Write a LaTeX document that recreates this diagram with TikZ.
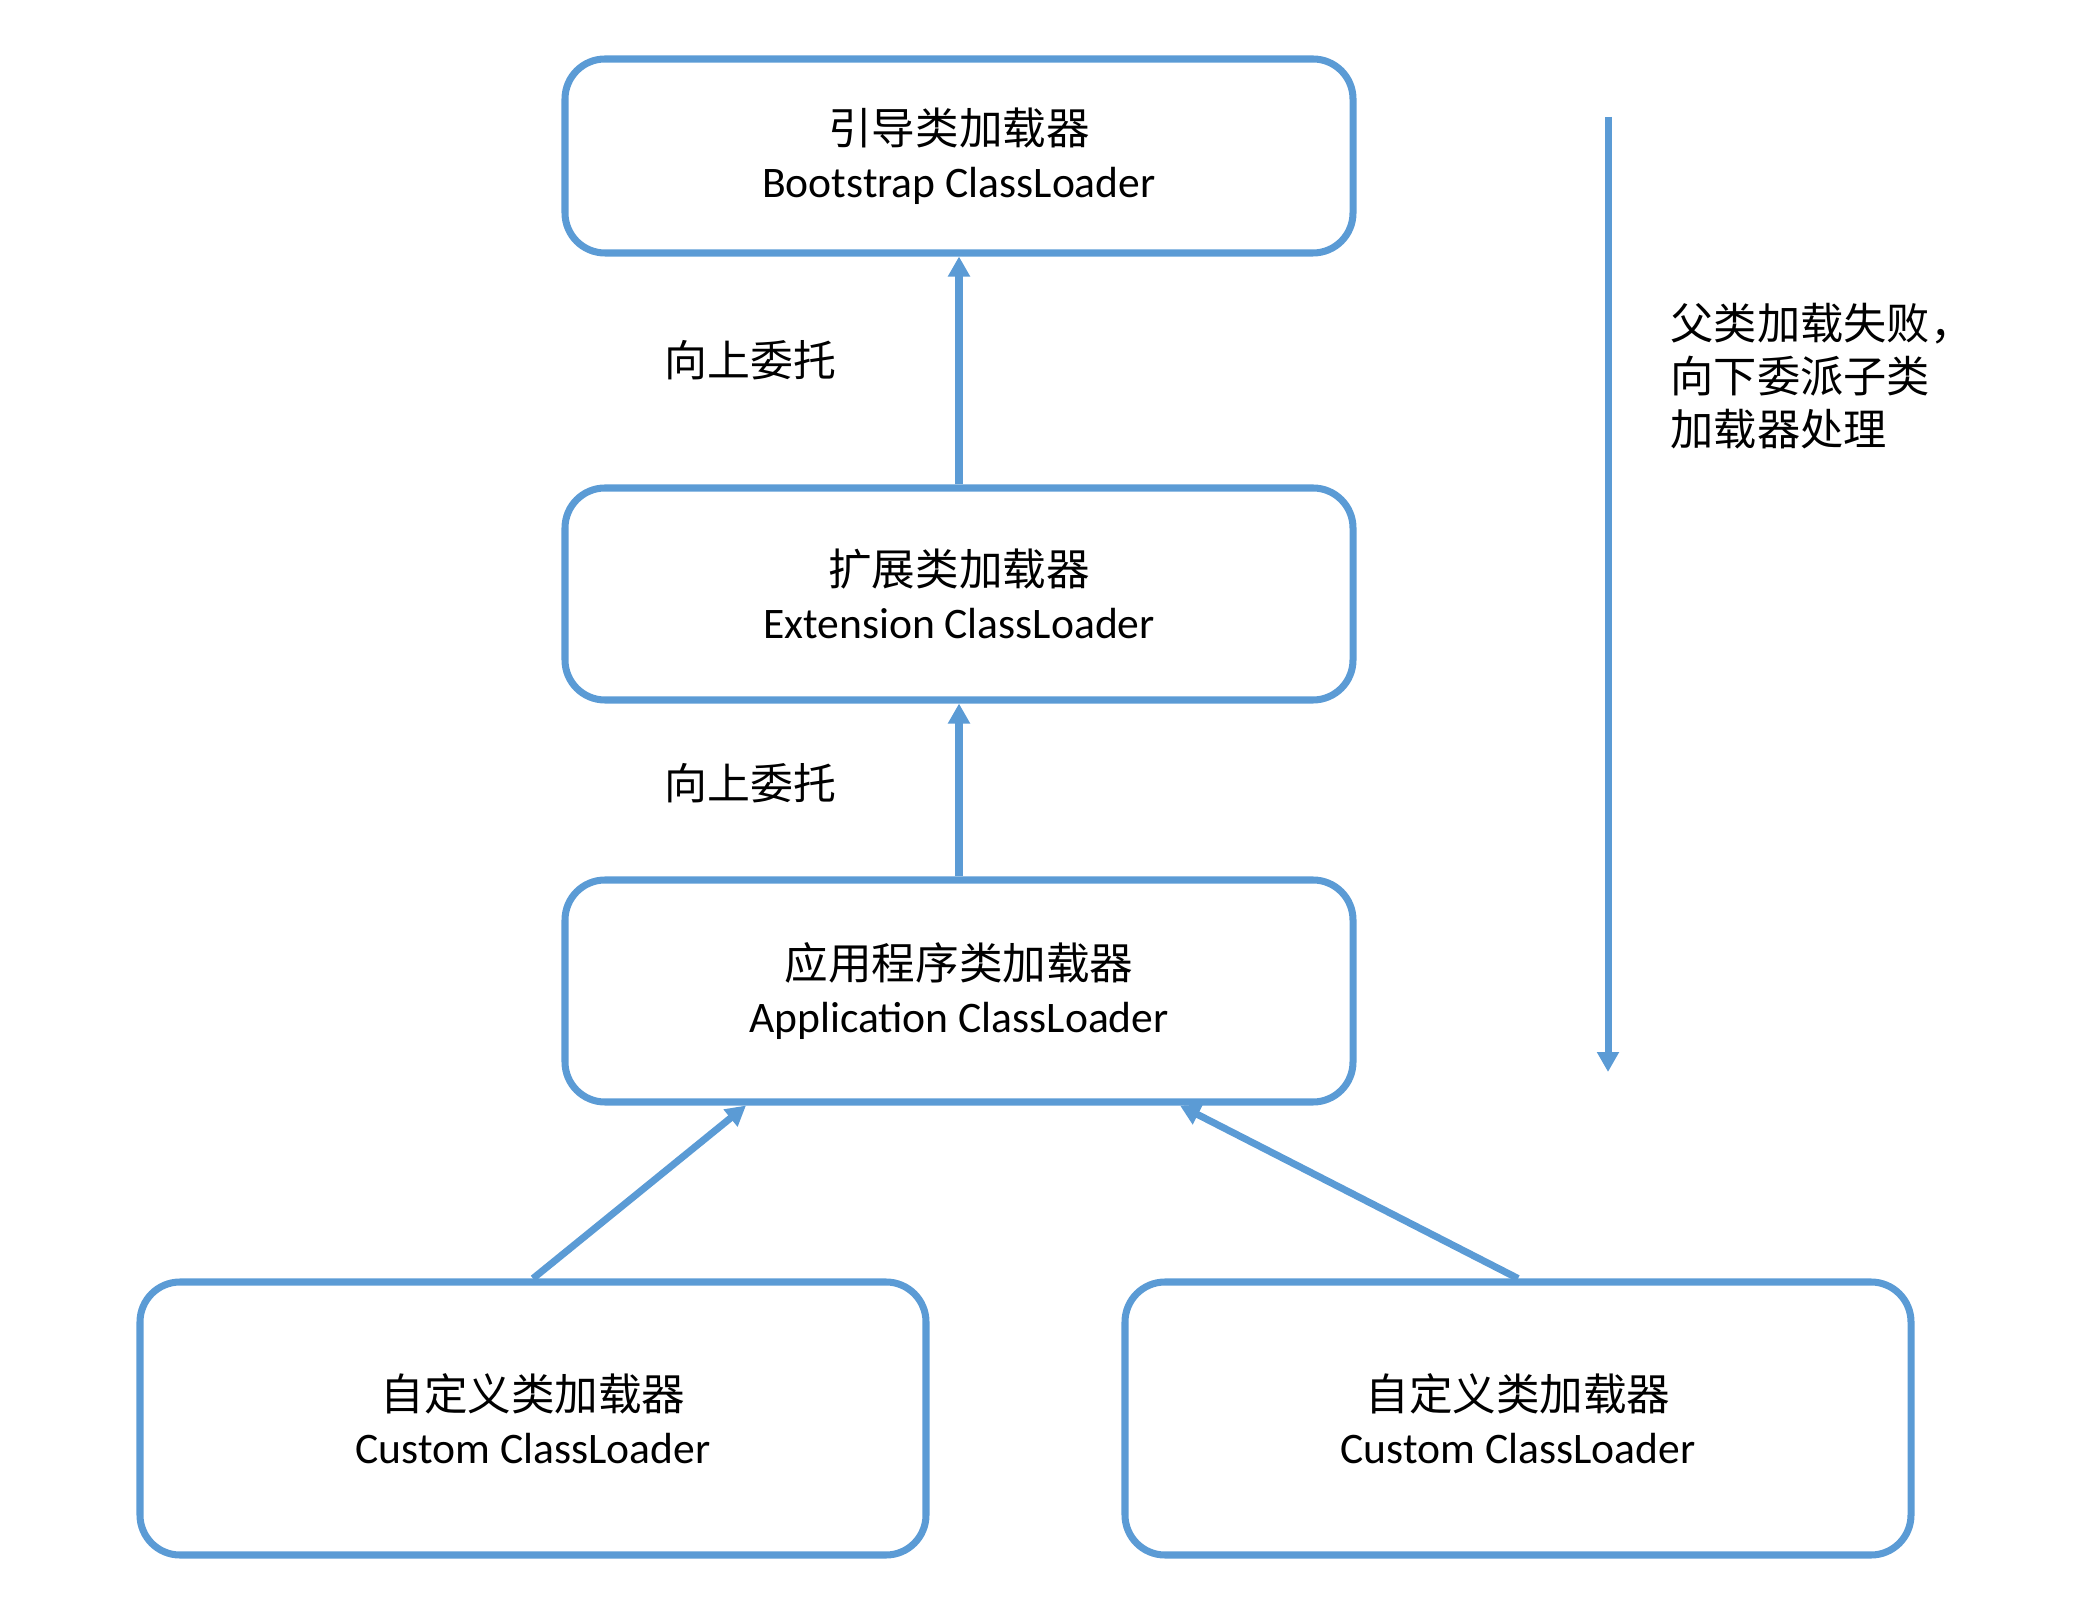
\documentclass[tikz,border=0pt]{standalone}
\usepackage{fontspec}
\setmainfont{Carlito}
\newfontfamily\cjk{Noto Sans CJK SC}
\usetikzlibrary{arrows.meta,positioning}
\definecolor{lblue}{HTML}{5B9BD5}
\newcommand{\zh}[1]{{\cjk #1}}
\tikzset{
  loader/.style={draw=lblue, line width=2pt, rounded corners=0.4cm,
    minimum width=7.88cm, inner sep=0pt, align=center,
    font=\fontsize{12.4}{15.2}\selectfont},
  link/.style={draw=lblue, line width=2pt,
    -{Triangle[width=0.21cm,length=0.2cm]}},
  lab/.style={inner sep=0pt, font=\fontsize{12.2}{15}\selectfont\cjk}
}
\begin{document}
\begin{tikzpicture}
  \useasboundingbox (0,0) rectangle (20.87,-16.09);

  \node[loader, minimum height=1.94cm] (boot) at (9.59,-1.56)
    {\zh{引导类加载器}\\Bootstrap ClassLoader};
  \node[loader, minimum height=2.12cm] (ext) at (9.59,-5.94)
    {\zh{扩展类加载器}\\Extension ClassLoader};
  \node[loader, minimum height=2.22cm] (app) at (9.59,-9.91)
    {\zh{应用程序类加载器}\\Application ClassLoader};
  \node[loader, minimum height=2.73cm, minimum width=7.86cm] (cust1) at (5.33,-14.185)
    {\zh{自定义类加载器}\\Custom ClassLoader};
  \node[loader, minimum height=2.73cm, minimum width=7.86cm] (cust2) at (15.18,-14.185)
    {\zh{自定义类加载器}\\Custom ClassLoader};

  % delegation upwards
  \draw[link] (ext) -- node[lab, left=1.19cm, yshift=0.1cm] {向上委托} (boot);
  \draw[link] (app) -- node[lab, left=1.19cm, yshift=0.07cm] {向上委托} (ext);
  \draw[link] (cust1.north) -- ([xshift=-2.13cm]app.south);
  \draw[link] (cust2.north) -- ([xshift=2.21cm]app.south);

  % failure goes back down
  \coordinate (down0) at (16.08,-1.17);
  \coordinate (down1) at (16.08,-10.72);
  \draw[link] (down0) -- (down1);
  \node[anchor=west, align=left, inner sep=0pt,
    font=\fontsize{12.3}{15}\selectfont\cjk] (fail) at (16.70,-3.76)
    {父类加载失败，\\向下委派子类\\加载器处理};
\end{tikzpicture}
\end{document}
